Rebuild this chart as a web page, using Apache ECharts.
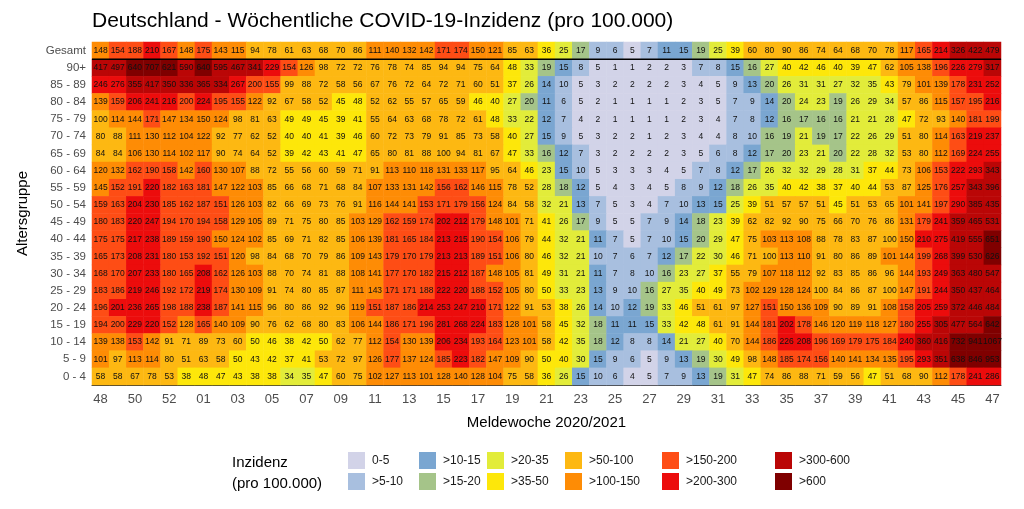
<!DOCTYPE html>
<html>
<head>
<meta charset="utf-8">
<title>COVID-19-Inzidenz</title>
<script src="https://cdn.jsdelivr.net/npm/echarts@6/dist/echarts.min.js"></script>
<style>
  html, body { margin: 0; padding: 0; background: #fff; }
  #chart { width: 1024px; height: 509px; }
</style>
</head>
<body>
<div id="chart"></div>
<script>
// Meldewochen 48/2020 .. 47/2021
const weeks = ['48', '49', '50', '51', '52', '53',
  '01', '02', '03', '04', '05', '06', '07', '08', '09', '10',
  '11', '12', '13', '14', '15', '16', '17', '18', '19', '20',
  '21', '22', '23', '24', '25', '26', '27', '28', '29', '30',
  '31', '32', '33', '34', '35', '36', '37', '38', '39', '40',
  '41', '42', '43', '44', '45', '46', '47'];

// top to bottom
const ageGroups = ['Gesamt', '90+', '85 - 89', '80 - 84', '75 - 79', '70 - 74',
  '65 - 69', '60 - 64', '55 - 59', '50 - 54', '45 - 49', '40 - 44', '35 - 39',
  '30 - 34', '25 - 29', '20 - 24', '15 - 19', '10 - 14', '5 - 9', '0 - 4'];

const gesamt = [148, 154, 188, 210, 167, 148, 175, 143, 115, 94, 78, 61, 63, 68, 70, 86, 111, 140, 132, 142, 171, 174, 150, 121, 85, 63, 36, 25, 17, 9, 6, 5, 7, 11, 15, 19, 25, 39, 60, 80, 90, 86, 74, 64, 68, 70, 78, 117, 165, 214, 326, 422, 479];
const a90 = [417, 497, 640, 707, 621, 590, 640, 595, 467, 341, 229, 154, 126, 98, 72, 72, 76, 78, 74, 85, 94, 94, 75, 64, 48, 33, 19, 15, 8, 5, 1, 1, 2, 2, 3, 7, 8, 15, 16, 27, 40, 42, 46, 40, 39, 47, 62, 105, 138, 196, 226, 279, 317];
const a85 = [246, 276, 355, 417, 350, 336, 365, 334, 267, 200, 155, 99, 88, 72, 58, 56, 67, 76, 72, 64, 72, 71, 60, 51, 37, 26, 14, 10, 5, 3, 2, 2, 2, 2, 3, 4, 5, 9, 13, 20, 26, 31, 31, 27, 32, 35, 43, 79, 101, 139, 178, 231, 252];
const a80 = [139, 159, 206, 241, 216, 200, 224, 195, 155, 122, 92, 67, 58, 52, 45, 48, 52, 62, 55, 57, 65, 59, 46, 40, 27, 20, 11, 6, 5, 2, 1, 1, 1, 1, 2, 3, 5, 7, 9, 14, 20, 24, 23, 19, 26, 29, 34, 57, 86, 115, 157, 195, 216];
const a75 = [100, 114, 144, 171, 147, 134, 150, 124, 98, 81, 63, 49, 49, 45, 39, 41, 55, 64, 63, 68, 78, 72, 61, 48, 33, 22, 12, 7, 4, 2, 1, 1, 1, 1, 2, 3, 4, 7, 8, 12, 16, 17, 16, 16, 21, 21, 28, 47, 72, 93, 140, 181, 199];
const a70 = [80, 88, 111, 130, 112, 104, 122, 92, 77, 62, 52, 40, 40, 41, 39, 46, 60, 72, 73, 79, 91, 85, 73, 58, 40, 27, 15, 9, 5, 3, 2, 2, 1, 2, 3, 4, 4, 8, 10, 16, 19, 21, 19, 17, 22, 26, 29, 51, 80, 114, 163, 219, 237];
const a65 = [84, 84, 106, 130, 114, 102, 117, 90, 74, 64, 52, 39, 42, 43, 41, 47, 65, 80, 81, 88, 100, 94, 81, 67, 47, 33, 16, 12, 7, 3, 2, 2, 2, 2, 3, 5, 6, 8, 12, 17, 20, 23, 21, 20, 22, 28, 32, 53, 80, 112, 169, 224, 255];
const a60 = [120, 132, 162, 190, 158, 142, 160, 130, 107, 88, 72, 55, 56, 60, 59, 71, 91, 113, 110, 118, 131, 133, 117, 95, 64, 46, 23, 15, 10, 5, 3, 3, 3, 4, 5, 7, 8, 12, 17, 26, 32, 32, 29, 28, 31, 37, 44, 73, 106, 153, 222, 293, 343];
const a55 = [145, 152, 191, 220, 182, 163, 181, 147, 122, 103, 85, 66, 68, 71, 68, 84, 107, 133, 131, 142, 156, 162, 146, 115, 78, 52, 28, 18, 12, 5, 4, 3, 4, 5, 8, 9, 12, 18, 26, 35, 40, 42, 38, 37, 40, 44, 53, 87, 125, 176, 257, 343, 396];
const a50 = [159, 163, 204, 230, 185, 162, 187, 151, 126, 103, 82, 66, 69, 73, 76, 91, 116, 144, 141, 153, 171, 179, 156, 124, 84, 58, 32, 21, 13, 7, 5, 3, 4, 7, 10, 13, 15, 25, 39, 51, 57, 57, 51, 45, 51, 53, 65, 101, 141, 197, 290, 385, 435];
const a45 = [180, 183, 220, 247, 194, 170, 194, 158, 129, 105, 89, 71, 75, 80, 85, 103, 129, 162, 159, 174, 202, 212, 179, 148, 101, 71, 41, 26, 17, 9, 5, 5, 7, 9, 14, 18, 23, 39, 62, 82, 92, 90, 75, 66, 70, 76, 86, 131, 179, 241, 359, 465, 531];
const a40 = [175, 175, 217, 238, 189, 159, 190, 150, 124, 102, 85, 69, 71, 82, 85, 106, 139, 181, 165, 184, 213, 215, 190, 154, 106, 79, 44, 32, 21, 11, 7, 5, 7, 10, 15, 20, 29, 47, 75, 103, 113, 108, 88, 78, 83, 87, 100, 150, 210, 275, 419, 555, 651];
const a35 = [165, 173, 208, 231, 180, 153, 192, 151, 120, 98, 84, 68, 70, 79, 86, 109, 143, 179, 170, 179, 213, 213, 189, 151, 106, 80, 46, 32, 21, 10, 7, 6, 7, 12, 17, 22, 30, 46, 71, 100, 113, 110, 91, 80, 86, 89, 101, 144, 199, 268, 399, 530, 626];
const a30 = [168, 170, 207, 233, 180, 165, 208, 162, 126, 103, 88, 70, 74, 81, 88, 108, 141, 177, 170, 182, 215, 212, 187, 148, 105, 81, 49, 31, 21, 11, 7, 8, 10, 16, 23, 27, 37, 55, 79, 107, 118, 112, 92, 83, 85, 86, 96, 144, 193, 249, 363, 480, 547];
const a25 = [183, 186, 219, 246, 192, 172, 219, 174, 130, 109, 91, 74, 80, 85, 87, 111, 143, 171, 171, 188, 222, 220, 188, 152, 105, 80, 50, 33, 23, 13, 9, 10, 16, 27, 35, 40, 49, 73, 102, 129, 128, 124, 100, 84, 86, 87, 100, 147, 191, 244, 350, 437, 464];
const a20 = [196, 201, 236, 265, 198, 188, 238, 187, 141, 115, 96, 80, 86, 92, 96, 119, 151, 187, 186, 214, 253, 247, 210, 171, 122, 91, 53, 38, 26, 14, 10, 12, 19, 33, 46, 51, 61, 97, 127, 151, 150, 136, 109, 90, 89, 91, 108, 158, 205, 259, 372, 446, 484];
const a15 = [194, 200, 229, 220, 152, 128, 165, 140, 109, 90, 76, 62, 68, 80, 83, 106, 144, 186, 171, 196, 281, 268, 224, 183, 128, 101, 58, 45, 32, 18, 11, 11, 15, 33, 42, 48, 61, 91, 144, 181, 202, 178, 146, 120, 119, 118, 127, 180, 255, 305, 477, 564, 642];
const a10 = [139, 138, 153, 142, 91, 71, 89, 73, 60, 50, 46, 38, 42, 50, 62, 77, 112, 154, 130, 139, 206, 234, 193, 164, 123, 101, 58, 42, 35, 18, 12, 8, 8, 14, 21, 27, 40, 70, 144, 186, 226, 208, 196, 169, 179, 175, 184, 240, 360, 416, 732, 941, 1067];
const a5 = [101, 97, 113, 114, 80, 51, 63, 58, 50, 43, 42, 37, 41, 53, 72, 97, 126, 177, 137, 124, 185, 223, 182, 147, 109, 90, 50, 40, 30, 15, 9, 6, 5, 9, 13, 19, 30, 49, 98, 148, 185, 174, 156, 140, 141, 134, 135, 195, 293, 351, 638, 846, 953];
const a0 = [58, 58, 67, 78, 53, 38, 48, 47, 43, 38, 38, 34, 35, 47, 60, 75, 102, 127, 113, 101, 128, 140, 128, 104, 75, 58, 36, 26, 15, 10, 6, 4, 5, 7, 9, 13, 19, 31, 47, 74, 86, 88, 71, 59, 56, 47, 51, 68, 90, 112, 178, 241, 286];

const rows = [gesamt, a90, a85, a80, a75, a70, a65, a60, a55, a50, a45, a40, a35, a30, a25, a20, a15, a10, a5, a0];

// Klassen der Inzidenz
const breaks = [0, 5, 10, 15, 20, 35, 50, 100, 150, 200, 300, 600, Infinity];
const classLabels = ['0-5', '>5-10', '>10-15', '>15-20', '>20-35', '>35-50',
  '>50-100', '>100-150', '>150-200', '>200-300', '>300-600', '>600'];
const classColors = ['#d2d3e8', '#a8bfdf', '#7aa6d1', '#a5c489', '#e2ec3a', '#fde70a',
  '#fdb812', '#fe8c05', '#fe4d15', '#ec0c0c', '#ba0606', '#7f0000'];

const FONT = '"Liberation Sans", Arial, sans-serif';

const data = [];
rows.forEach((row, r) => {
  row.forEach((v, c) => data.push([c, r, v]));
});

const pieces = classLabels.map((lab, i) => {
  const p = { color: classColors[i], label: lab };
  if (i === 0) p.gte = breaks[0]; else p.gt = breaks[i];
  if (breaks[i + 1] !== Infinity) p.lte = breaks[i + 1];
  return p;
});

const chart = echarts.init(document.getElementById('chart'));

// Legende (2 Zeilen, spaltenweise gefuellt)
const legendX = [348, 419, 487, 565, 662, 775];
const legendY = [452, 473];
const legendGraphics = [
  { type: 'text', left: 232, top: 455, style: { text: 'Inzidenz', font: '15px ' + FONT, fill: '#000' } },
  { type: 'text', left: 232, top: 476, style: { text: '(pro 100.000)', font: '15px ' + FONT, fill: '#000' } }
];
classLabels.forEach((lab, i) => {
  const col = Math.floor(i / 2), row = i % 2;
  legendGraphics.push({
    type: 'rect',
    shape: { x: legendX[col], y: legendY[row], width: 17, height: 17 },
    style: { fill: classColors[i] }
  });
  legendGraphics.push({
    type: 'text',
    x: legendX[col] + 24, y: legendY[row] + 9,
    style: { text: lab, font: '12px ' + FONT, fill: '#1a1a1a', verticalAlign: 'middle' }
  });
});

chart.setOption({
  animation: false,
  backgroundColor: '#fff',
  textStyle: { fontFamily: FONT },
  title: {
    text: 'Deutschland - Wöchentliche COVID-19-Inzidenz (pro 100.000)',
    left: 87,
    top: 6,
    textStyle: { fontSize: 21, fontWeight: 'normal', color: '#000', fontFamily: FONT }
  },
  grid: { left: 92, right: 23, top: 42, bottom: 124 },
  xAxis: {
    type: 'category',
    data: weeks,
    name: 'Meldewoche 2020/2021',
    nameLocation: 'middle',
    nameGap: 30,
    nameTextStyle: { fontSize: 15, color: '#000' },
    axisLine: { show: true, lineStyle: { color: '#333', width: 1 } },
    axisTick: { show: false },
    axisLabel: { interval: 1, fontSize: 13, color: '#4d4d4d', margin: 8 },
    splitLine: { show: false }
  },
  yAxis: {
    type: 'category',
    data: ageGroups,
    inverse: true,
    name: 'Altersgruppe',
    nameLocation: 'middle',
    nameGap: 62,
    nameTextStyle: { fontSize: 15, color: '#000' },
    axisLine: { show: false },
    axisTick: { show: false },
    axisLabel: { fontSize: 11.5, color: '#4d4d4d', margin: 6 },
    splitLine: { show: false }
  },
  visualMap: {
    type: 'piecewise',
    show: false,
    dimension: 2,
    pieces: pieces
  },
  graphic: legendGraphics,
  series: [{
    type: 'heatmap',
    data: data,
    itemStyle: { borderWidth: 0 },
    label: {
      show: true,
      fontSize: 8.5,
      color: '#111',
      fontFamily: FONT,
      formatter: p => String(p.value[2])
    },
    emphasis: { disabled: true }
  }]
});

// Trennlinie unter "Gesamt"
const y0 = chart.convertToPixel({ yAxisIndex: 0 }, ageGroups[0]);
const y1 = chart.convertToPixel({ yAxisIndex: 0 }, ageGroups[1]);
const xL = chart.convertToPixel({ xAxisIndex: 0 }, weeks[0]);
const xR = chart.convertToPixel({ xAxisIndex: 0 }, weeks[weeks.length - 1]);
const half = (xR - xL) / (weeks.length - 1) / 2;
legendGraphics.push({
  type: 'line',
  shape: { x1: xL - half, y1: (y0 + y1) / 2, x2: xR + half, y2: (y0 + y1) / 2 },
  style: { stroke: '#000', lineWidth: 1.5 },
  z: 100
});
chart.setOption({ graphic: legendGraphics });
</script>
</body>
</html>
